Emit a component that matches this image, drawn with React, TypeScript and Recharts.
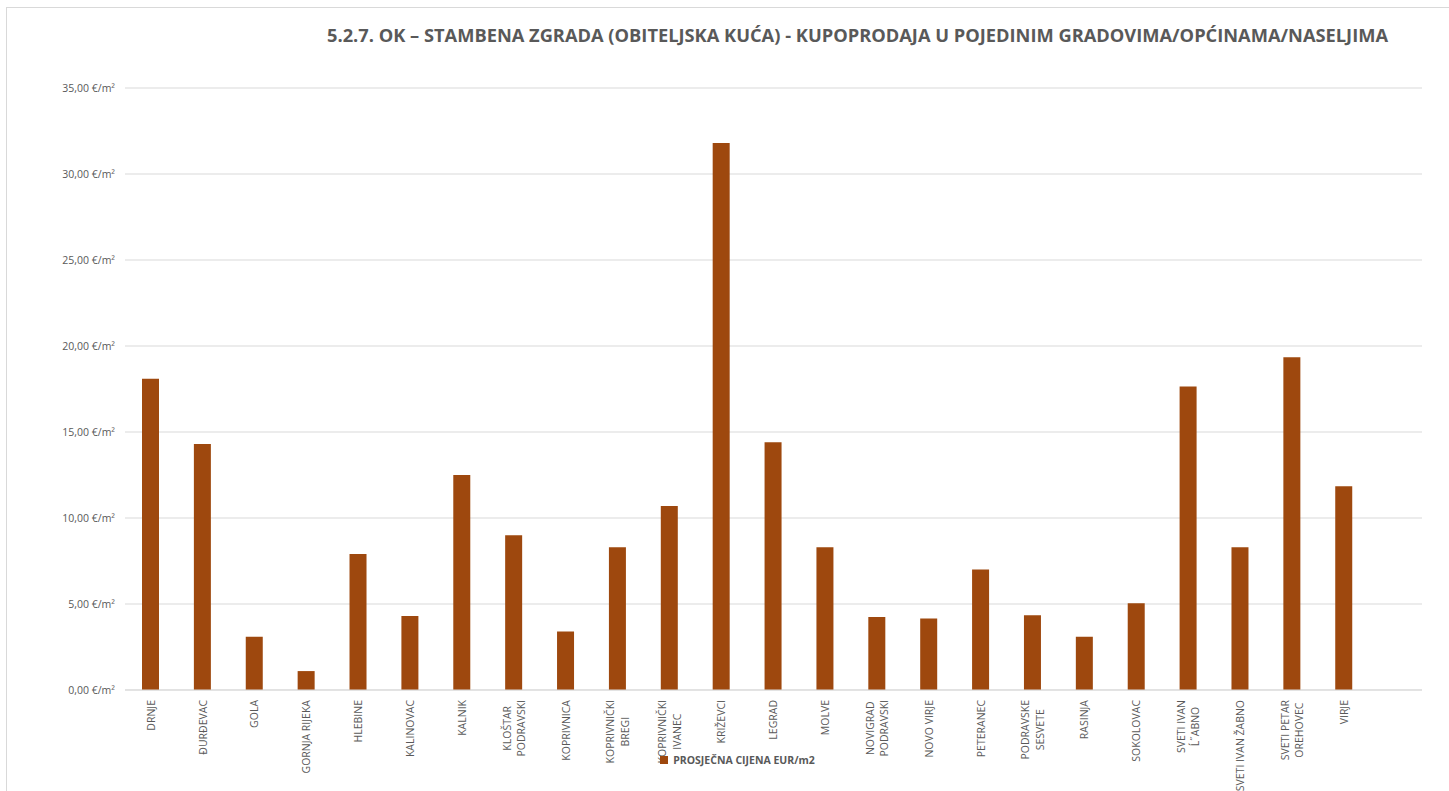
import React from "react";
import { Bar, BarChart, CartesianGrid, Legend, XAxis, YAxis } from "recharts";

const categories = [
  "DRNJE",
  "ĐURĐEVAC",
  "GOLA",
  "GORNJA RIJEKA",
  "HLEBINE",
  "KALINOVAC",
  "KALNIK",
  "KLOŠTAR\nPODRAVSKI",
  "KOPRIVNICA",
  "KOPRIVNIČKI\nBREGI",
  "KOPRIVNIČKI\nIVANEC",
  "KRIŽEVCI",
  "LEGRAD",
  "MOLVE",
  "NOVIGRAD\nPODRAVSKI",
  "NOVO VIRJE",
  "PETERANEC",
  "PODRAVSKE\nSESVETE",
  "RASINJA",
  "SOKOLOVAC",
  "SVETI IVAN\nĹ˝ABNO",
  "SVETI IVAN ŽABNO",
  "SVETI PETAR\nOREHOVEC",
  "VIRJE",
  "",
];

const prices = [
  18.1, 14.3, 3.1, 1.1, 7.9, 4.3, 12.5, 9.0, 3.4, 8.3, 10.7, 31.8, 14.4, 8.3,
  4.25, 4.15, 7.0, 4.35, 3.1, 5.05, 17.65, 8.3, 19.35, 11.85, null,
];

const yTicks = [0, 5, 10, 15, 20, 25, 30, 35];

const data = categories.map((name, i) => ({ name, price: prices[i] }));

const GREY = "#595959";
const BAR = "#9E480E";
const FONT = "'Open Sans', 'Liberation Sans', sans-serif";
const TICK_SIZE = 10.5;

let ctx: CanvasRenderingContext2D | null = null;
function textWidth(s: string) {
  if (!ctx) ctx = document.createElement("canvas").getContext("2d");
  if (!ctx) return s.length * 6.5;
  ctx.font = `${TICK_SIZE}px 'Open Sans'`;
  return ctx.measureText(s).width;
}

function fmtEur(v: number) {
  return `${v.toFixed(2).replace(".", ",")} €/m²`;
}

function CategoryTick(props: any) {
  const { x, y, payload } = props;
  const lines: string[] = String(payload.value).split("\n").filter((l) => l);
  if (!lines.length) return null;
  const maxW = Math.max(...lines.map(textWidth));
  const step = 14.5;
  return (
    <g transform={`translate(${x},${y + 2}) rotate(-90)`}>
      {lines.map((line, i) => (
        <text
          key={i}
          x={-maxW / 2}
          y={(i - (lines.length - 1) / 2) * step}
          dy="0.35em"
          textAnchor="middle"
          fill={GREY}
          fontSize={TICK_SIZE}
          fontFamily={FONT}
        >
          {line}
        </text>
      ))}
    </g>
  );
}

export default function App() {
  return (
    <div
      style={{
        position: "fixed",
        left: 0,
        top: 0,
        width: 1449,
        height: 791,
        background: "#fff",
        overflow: "hidden",
      }}
    >
      <div
        style={{
          position: "absolute",
          left: 6,
          top: 7,
          width: 1443,
          height: 784,
          borderLeft: "1px solid #d9d9d9",
          borderTop: "1px solid #d9d9d9",
        }}
      />
      <svg
        width={1449}
        height={60}
        style={{ position: "absolute", left: 0, top: 0 }}
      >
        <text
          x={327}
          y={42}
          textLength={1061}
          lengthAdjust="spacingAndGlyphs"
          fill={GREY}
          fontSize={18}
          fontWeight="bold"
          fontFamily={FONT}
        >
          5.2.7. OK – STAMBENA ZGRADA (OBITELJSKA KUĆA) - KUPOPRODAJA U POJEDINIM GRADOVIMA/OPĆINAMA/NASELJIMA
        </text>
      </svg>
      <div style={{ position: "absolute", left: 0, top: 0 }}>
        <BarChart
          width={1449}
          height={791}
          data={data}
          margin={{ top: 88, right: 27, left: 0, bottom: 0 }}
        >
          <CartesianGrid vertical={false} stroke="#d9d9d9" strokeWidth={1} />
          <XAxis
            dataKey="name"
            interval={0}
            height={101}
            tickLine={false}
            axisLine={{ stroke: "#d9d9d9" }}
            tick={<CategoryTick />}
          />
          <YAxis
            width={125}
            domain={[0, 35]}
            ticks={yTicks}
            tickFormatter={fmtEur}
            tickLine={false}
            axisLine={false}
            tickMargin={4}
            tick={{ fill: GREY, fontSize: TICK_SIZE, fontFamily: FONT }}
          />
          <Legend
            layout="horizontal"
            verticalAlign="middle"
            align="center"
            iconType="square"
            iconSize={8}
            wrapperStyle={{ top: 750, left: 655, width: 175, height: 20 }}
            formatter={(value: string) => (
              <span
                style={{
                  color: GREY,
                  fontWeight: "bold",
                  fontSize: 10.5,
                  fontFamily: FONT,
                  marginLeft: 1,
                }}
              >
                {value}
              </span>
            )}
          />
          <Bar
            dataKey="price"
            name="PROSJEČNA CIJENA EUR/m2"
            fill={BAR}
            barSize={17}
            isAnimationActive={false}
          />
        </BarChart>
      </div>
    </div>
  );
}
